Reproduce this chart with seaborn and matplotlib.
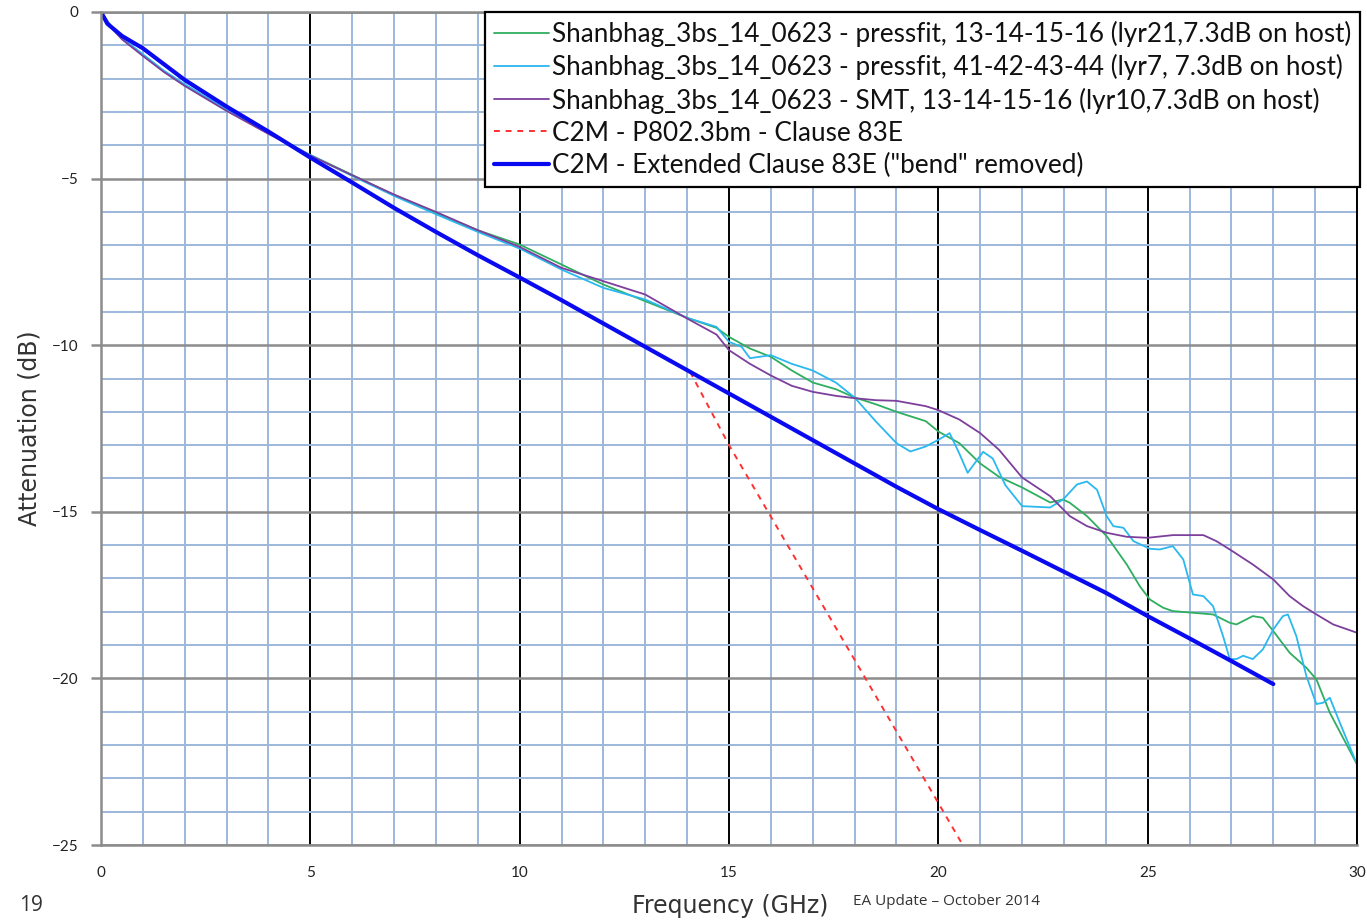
"""Attenuation vs frequency: measured channels against the C2M Clause 83E limits."""

import matplotlib

matplotlib.use("Agg")
import seaborn as sns
from matplotlib import pyplot as plt

# --- data ------------------------------------------------------------------
green_x = [0, 0.25, 0.5, 1, 1.5, 2, 3, 4, 5, 6, 7, 8, 9, 10, 11, 12, 13, 14, 14.7, 15, 15.5, 16,
           16.5, 17, 17.55, 18, 18.5, 19, 19.7, 20, 20.5, 21, 21.45, 22, 22.67, 22.98, 23.14, 23.55,
           24.02, 24.5, 24.81, 25.05, 25.37, 25.6, 26.08, 26.56, 26.96, 27.12, 27.51, 27.75, 28.0,
           28.39, 28.79, 29.03, 29.35, 30]
green_y = [0, -0.45, -0.8, -1.29, -1.78, -2.19, -2.94, -3.64, -4.29, -4.89, -5.49, -6.03, -6.55,
           -6.98, -7.58, -8.18, -8.68, -9.18, -9.48, -9.75, -10.1, -10.35, -10.76, -11.12, -11.32,
           -11.57, -11.77, -12.0, -12.28, -12.59, -12.94, -13.55, -13.95, -14.27, -14.72, -14.63,
           -14.73, -15.13, -15.73, -16.58, -17.23, -17.63, -17.88, -17.98, -18.03, -18.08, -18.33,
           -18.38, -18.13, -18.18, -18.58, -19.23, -19.68, -20.03, -21.03, -22.58]

cyan_x = [0, 0.25, 0.5, 1, 1.5, 2, 3, 4, 5, 6, 7, 8, 9, 10, 11, 12, 13, 14, 14.7, 15, 15.3, 15.5,
          16, 16.5, 17, 17.55, 18, 18.5, 19, 19.33, 19.7, 20, 20.27, 20.5, 20.7, 21.07, 21.3, 21.6,
          22, 22.67, 22.98, 23.31, 23.55, 23.79, 24.02, 24.18, 24.42, 24.66, 25.05, 25.29, 25.6,
          25.85, 26.08, 26.33, 26.56, 26.8, 26.96, 27.12, 27.28, 27.51, 27.75, 28.0, 28.23, 28.35,
          28.55, 28.79, 29.03, 29.19, 29.35, 29.59, 30]
cyan_y = [0, -0.45, -0.78, -1.27, -1.76, -2.17, -2.93, -3.63, -4.3, -4.92, -5.52, -6.07, -6.6,
          -7.1, -7.73, -8.28, -8.63, -9.18, -9.45, -9.9, -10.05, -10.39, -10.3, -10.56, -10.76,
          -11.12, -11.57, -12.28, -12.94, -13.19, -13.04, -12.84, -12.64, -13.25, -13.83, -13.2,
          -13.4, -14.2, -14.83, -14.87, -14.63, -14.18, -14.09, -14.34, -15.13, -15.43, -15.48,
          -15.88, -16.11, -16.13, -16.03, -16.43, -17.48, -17.53, -17.83, -18.73, -19.42, -19.42,
          -19.32, -19.42, -19.13, -18.53, -18.13, -18.08, -18.73, -19.93, -20.77, -20.73, -20.58,
          -21.33, -22.58]

purple_x = [0, 0.25, 0.5, 1, 1.5, 2, 3, 4, 5, 6, 7, 8, 9, 10, 11, 12, 13, 14, 14.7, 15, 15.5, 16,
            16.5, 17, 17.55, 18, 18.5, 19, 19.7, 20, 20.5, 21, 21.45, 22, 22.67, 23.14, 23.55,
            24.02, 24.5, 25.0, 25.6, 26.33, 26.64, 26.96, 27.51, 28.0, 28.39, 28.71, 29.03, 29.43, 30]
purple_y = [0, -0.48, -0.82, -1.32, -1.8, -2.22, -2.97, -3.66, -4.31, -4.9, -5.48, -6.0, -6.55,
            -7.05, -7.68, -8.08, -8.48, -9.2, -9.68, -10.15, -10.56, -10.91, -11.22, -11.4, -11.52,
            -11.59, -11.65, -11.67, -11.83, -11.95, -12.23, -12.64, -13.14, -13.97, -14.53, -15.13,
            -15.43, -15.63, -15.75, -15.78, -15.7, -15.7, -15.88, -16.13, -16.58, -17.03, -17.53,
            -17.83, -18.08, -18.38, -18.63]

c83e_x = [14.07, 15, 20, 21]
c83e_y = [-10.8, -13.0, -23.74, -25.9]

ext_x = [0, 0.15, 0.5, 1, 2, 3, 4, 5, 6, 7, 8, 9, 10, 11, 12, 13, 14, 15, 16, 17, 18, 19, 20,
         21, 22, 23, 24, 25, 26, 27, 28]
ext_y = [0, -0.35, -0.72, -1.09, -2.04, -2.84, -3.59, -4.37, -5.12, -5.88, -6.6, -7.3, -7.97,
         -8.65, -9.35, -10.05, -10.75, -11.45, -12.15, -12.85, -13.55, -14.25, -14.92, -15.55,
         -16.17, -16.8, -17.43, -18.13, -18.8, -19.48, -20.17]

labels = [
    "Shanbhag_3bs_14_0623 - pressfit, 13-14-15-16 (lyr21,7.3dB on host)",
    "Shanbhag_3bs_14_0623 - pressfit, 41-42-43-44 (lyr7, 7.3dB on host)",
    "Shanbhag_3bs_14_0623 - SMT, 13-14-15-16 (lyr10,7.3dB on host)",
    "C2M - P802.3bm - Clause 83E",
    "C2M - Extended Clause 83E (\"bend\" removed)",
]

sns.set_theme(style="white")
plt.rcParams["font.family"] = ["Lato", "DejaVu Sans"]

fig = plt.figure(figsize=(13.67, 9.21), dpi=100)
ax = fig.add_axes([0.0739, 0.0825, 0.9188, 0.9045])

series = [
    (green_x, green_y, "#2fae5f", 1.3, "-"),
    (cyan_x, cyan_y, "#2ab8ef", 1.3, "-"),
    (purple_x, purple_y, "#7d3f9c", 1.3, "-"),
    (c83e_x, c83e_y, "#ff3030", 1.4, (0, (3, 3))),
    (ext_x, ext_y, "#0a0af0", 3.0, "-"),
]
for (xs, ys, col, lw, ls), lab in zip(series, labels):
    sns.lineplot(x=xs, y=ys, ax=ax, color=col, lw=lw, linestyle=ls, label=lab,
                 estimator=None, sort=False)

ax.set_xlim(0, 30)
ax.set_ylim(-25, 0)
ax.set_xticks(range(0, 31, 5))
ax.set_xticks(range(0, 31), minor=True)
ax.set_yticks(range(-25, 1, 5))
ax.set_yticks(range(-25, 1), minor=True)

ax.set_axisbelow(True)
ax.grid(which="minor", color="#9db8dd", lw=1.4)
ax.xaxis.grid(which="major", color="black", lw=1.4)
ax.yaxis.grid(which="major", color="#8c8c8c", lw=1.8)

for side in ("left", "bottom", "top"):
    ax.spines[side].set_color("#8c8c8c")
    ax.spines[side].set_linewidth(1.8)
ax.spines["right"].set_color("black")
ax.spines["right"].set_linewidth(1.4)

ax.tick_params(axis="x", which="both", length=0, pad=15, labelsize=11, labelcolor="#222222")
ax.tick_params(axis="y", which="major", length=7, width=1.8, color="#8c8c8c", left=True,
               pad=9, labelsize=11, labelcolor="#222222")
ax.tick_params(axis="y", which="minor", length=0)

ax.set_xlabel("")
ax.set_ylabel("Attenuation (dB)", fontsize=17, color="#333333", family="DejaVu Sans", labelpad=8)

leg = ax.legend(loc="upper right", bbox_to_anchor=(1.0024, 1.0), frameon=True, fancybox=False,
                fontsize=18.8, handlelength=2.1, handletextpad=0.12, labelspacing=0.27,
                borderpad=0.35, borderaxespad=0)
leg.get_frame().set_edgecolor("black")
leg.get_frame().set_linewidth(1.6)
leg.get_frame().set_alpha(1)
for t in leg.get_texts():
    t.set_color("#111111")

fig.text(0.534, 0.003, "Frequency (GHz)", fontsize=17, color="#333333", family="DejaVu Sans",
         ha="center", va="bottom")
fig.text(0.624, 0.013, "EA Update \u2013 October 2014", fontsize=11, color="#333333",
         family="Open Sans", ha="left", va="bottom")
fig.text(0.014, 0.005, "19", fontsize=15, color="#333333", family="Open Sans",
         ha="left", va="bottom")

fig.savefig("out.png", dpi=100)
